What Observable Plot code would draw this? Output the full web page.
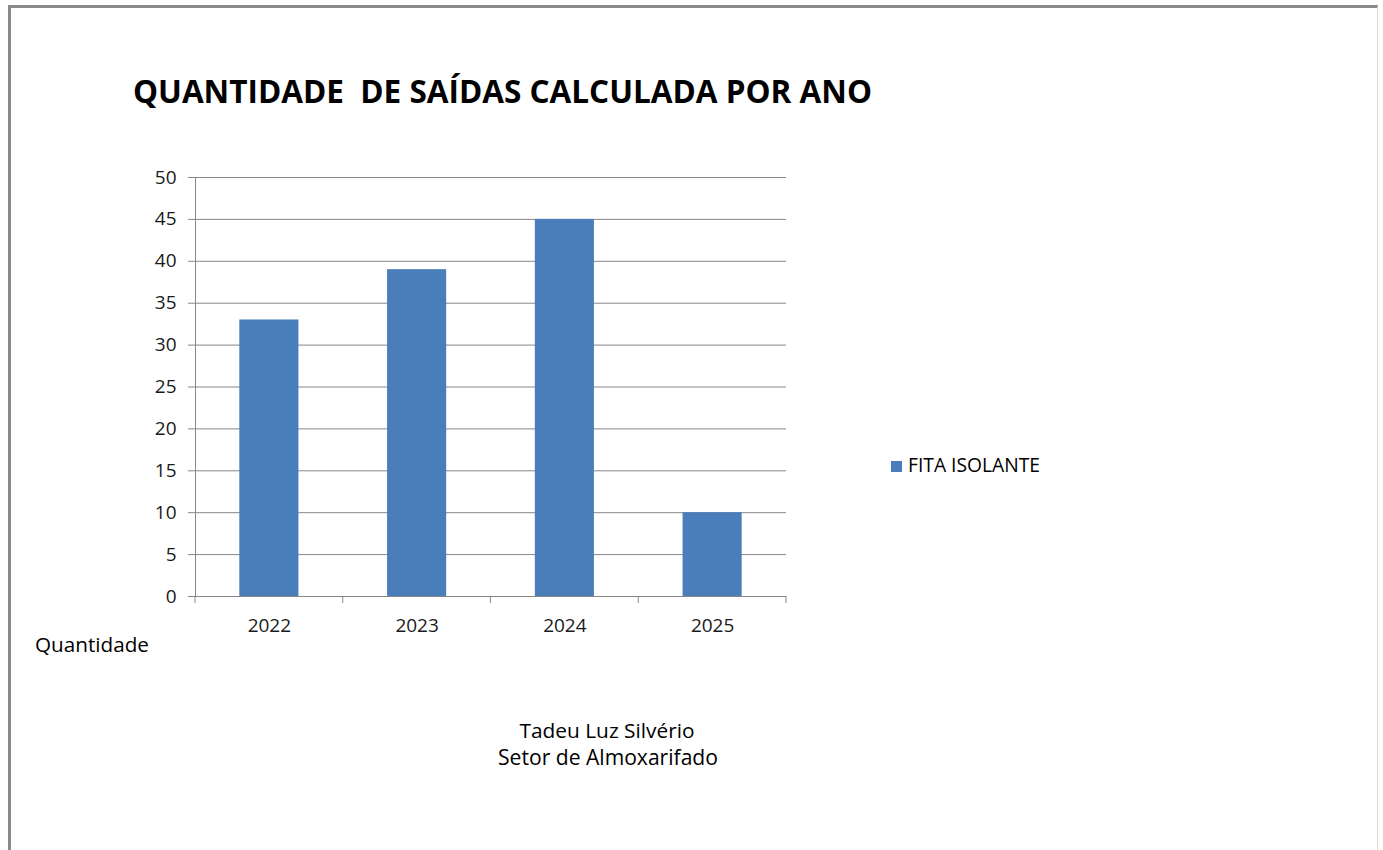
<!DOCTYPE html>
<html>
<head>
<meta charset="utf-8">
<script src="https://cdn.jsdelivr.net/npm/d3@7"></script>
<script src="https://cdn.jsdelivr.net/npm/@observablehq/plot@0.6"></script>
<style>
  html, body { margin: 0; padding: 0; background: #fff; overflow: hidden; }
  #wrap { position: relative; width: 1383px; height: 850px; }
  #frame { position: absolute; left: 8px; top: 5px; width: 1366px; height: 900px;
           border-left: 3px solid #8a8a8a; border-top: 3px solid #8a8a8a; border-right: 1px solid #dcdcdc; }
  #chart { position: absolute; left: 0; top: 0; }
  #overlay { position: absolute; left: 0; top: 0; pointer-events: none; }
  #overlay text { font-family: "Open Sans", sans-serif; fill: #000; }
</style>
</head>
<body>
<div id="wrap">
  <div id="frame"></div>
  <div id="chart"></div>
  <svg id="overlay" width="1383" height="850"></svg>
</div>
<script>
const title = "QUANTIDADE  DE SAÍDAS CALCULADA POR ANO";
const years = ["2022", "2023", "2024", "2025"];
const values = [33, 39, 45, 10];
const yTicks = [0, 5, 10, 15, 20, 25, 30, 35, 40, 45, 50];
const seriesName = "FITA ISOLANTE";
const axisNote = "Quantidade";
const footer = ["Tadeu Luz Silvério", "Setor de Almoxarifado"];

const data = years.map((year, i) => ({year, value: values[i]}));
const barColor = "#4a7ebb";
const gridColor = "#868686";

const chart = Plot.plot({
  width: 1383,
  height: 850,
  marginLeft: 195,
  marginRight: 597,
  marginTop: 177,
  marginBottom: 254,
  style: {fontFamily: "'Open Sans', sans-serif", fontSize: "19px", color: "#000", background: "transparent"},
  x: {domain: years, paddingInner: 0.6, paddingOuter: 0.3, round: false, label: null},
  y: {domain: [0, 50], label: null},
  marks: [
    Plot.gridY(yTicks, {stroke: gridColor, strokeOpacity: 1}),
    Plot.barY(data, {x: "year", y: "value", fill: barColor}),
    Plot.ruleY([0], {stroke: gridColor}),
    Plot.frame({anchor: "left", stroke: gridColor}),
    Plot.axisY(yTicks, {tickSize: 7, tickPadding: 12, stroke: gridColor, fill: "#1a1a1a", label: null}),
    Plot.axisX({tickSize: 0, tickPadding: 22, fill: "#1a1a1a", label: null})
  ]
});
document.getElementById("chart").appendChild(chart);

// category boundary tick marks on the x axis, positioned via the x scale
const xs = chart.scale("x");
const ys = chart.scale("y");
const y0 = ys.apply(0);
const [r0, r1] = xs.range;
const bounds = d3.range(years.length + 1).map(i => r0 + i * (r1 - r0) / years.length);
d3.select(chart).append("g")
  .selectAll("line").data(bounds).join("line")
  .attr("x1", d => d).attr("x2", d => d)
  .attr("y1", y0).attr("y2", y0 + 7)
  .attr("stroke", gridColor);

// overlay texts
const ov = d3.select("#overlay");
function fitText(sel, width) {
  let fs = parseFloat(sel.attr("font-size"));
  for (let k = 0; k < 4; k++) {
    const w = sel.node().getComputedTextLength();
    fs = fs * width / w;
    sel.attr("font-size", fs);
  }
}
const t = ov.append("text").attr("x", 133).attr("y", 103).attr("font-size", 28)
  .attr("font-weight", "bold").style("white-space", "pre").attr("xml:space", "preserve").text(title);
fitText(t, 739);

ov.append("rect").attr("x", 891).attr("y", 461).attr("width", 11).attr("height", 11).attr("fill", barColor);
const lg = ov.append("text").attr("x", 908).attr("y", 472).attr("font-size", 17).attr("fill", "#1a1a1a").text(seriesName);
fitText(lg, 132);

const q = ov.append("text").attr("x", 35).attr("y", 652).attr("font-size", 19).attr("fill", "#1a1a1a").text(axisNote);
fitText(q, 114);

const f1 = ov.append("text").attr("x", 607).attr("y", 738).attr("text-anchor", "middle").attr("font-size", 19).attr("fill", "#1a1a1a").text(footer[0]);
fitText(f1, 175);
const f2 = ov.append("text").attr("x", 608).attr("y", 765).attr("text-anchor", "middle").attr("font-size", 19).attr("fill", "#1a1a1a").text(footer[1]);
fitText(f2, 220);
</script>
</body>
</html>
